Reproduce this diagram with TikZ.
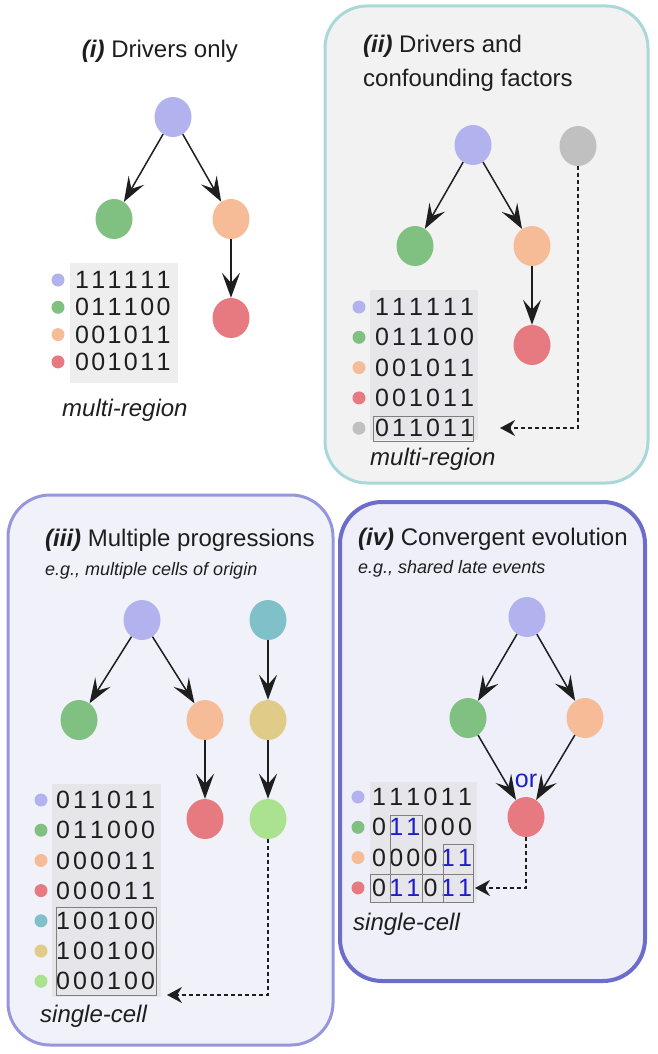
\documentclass[tikz,border=0pt]{standalone}
\usepackage{fontspec}
\setmainfont{Liberation Sans}
\usetikzlibrary{arrows.meta,shapes.geometric}
\definecolor{lav}{RGB}{178,178,238}
\definecolor{grn}{RGB}{128,192,128}
\definecolor{org}{RGB}{246,188,152}
\definecolor{red}{RGB}{230,122,128}
\definecolor{gry}{RGB}{192,192,192}
\definecolor{tea}{RGB}{128,192,200}
\definecolor{yel}{RGB}{224,204,136}
\definecolor{lgr}{RGB}{170,226,144}
\definecolor{ink}{RGB}{30,30,30}
\definecolor{bitbg}{RGB}{230,230,234}
\definecolor{bitbgA}{RGB}{238,238,238}
\definecolor{bitblue}{RGB}{30,30,200}
\definecolor{tealine}{RGB}{168,216,218}
\definecolor{tealfill}{RGB}{242,242,242}
\definecolor{lilline}{RGB}{150,150,220}
\definecolor{lilfill}{RGB}{241,242,249}
\definecolor{indline}{RGB}{108,108,202}
\definecolor{indfill}{RGB}{238,239,249}
\newcommand{\hlbit}[1]{\textcolor{bitblue}{#1}}

\begin{document}
\begin{tikzpicture}[x=1pt,y=-1pt,
        vtx/.style={ellipse,minimum width=37pt,minimum height=40pt,inner sep=0pt},
        edge/.style={-{Stealth[length=25pt,width=18pt,inset=10pt]},line width=1.5pt,draw=ink},
        link/.style={dash pattern=on 4pt off 3pt,-{Stealth[length=15pt,width=16pt,inset=5pt]},line width=1.3pt,draw=ink},
        bit/.style={font=\fontsize{25}{25}\selectfont,text=ink,inner sep=0pt},
        heading/.style={font=\fontsize{24}{28}\selectfont,text=ink,inner sep=0pt},
        eg/.style={font=\fontsize{18}{22}\selectfont\itshape,text=ink,inner sep=0pt},
        tag/.style={font=\fontsize{24}{28}\selectfont\itshape,text=ink,inner sep=0pt},
        frame/.style={rounded corners=42pt}]
    \useasboundingbox (0,0) rectangle (658,1054);

    % panel frames
    \draw[frame,draw=tealine,fill=tealfill,line width=3pt] (325,6) rectangle (648,483);
    \draw[frame,draw=lilline,fill=lilfill,line width=3pt] (8,495) rectangle (333,1045);
    \draw[frame,draw=indline,fill=indfill,line width=4pt] (340,502) rectangle (645,981);

    % (i) drivers only
    \node[heading,anchor=base] (Atitle) at (160,58) {\textbf{\textit{(i)}} Drivers only};
    \node[vtx,fill=lav] (Apur) at (173,117) {};
    \node[vtx,fill=grn] (Agrn) at (114,219) {};
    \node[vtx,fill=org] (Aorg) at (231,219) {};
    \node[vtx,fill=red] (Ared) at (231,318) {};
    \draw[edge] (Apur) -- (Agrn);
    \draw[edge] (Apur) -- (Aorg);
    \draw[edge] (Aorg) -- (Ared);
    \fill[bitbgA] (70,263) rectangle (178,383);
    \foreach \c/\bits [count=\r] in {lav/{1,1,1,1,1,1},grn/{0,1,1,1,0,0},org/{0,0,1,0,1,1},red/{0,0,1,0,1,1}}{
        \fill[\c] (58,{280+27.3*(\r-1)}) circle (6.5pt);
        \foreach \b [count=\k] in \bits
            \node[bit] (A-\r-\k) at ({82+16.3*(\k-1)},{280+27.3*(\r-1)}) {\b};
    }
    \node[tag,anchor=base west] (Atag) at (62,416) {multi-region};

    % (ii) drivers and confounding factors
    \node[heading,anchor=base west] (Btitle) at (363,53) {\textbf{\textit{(ii)}} Drivers and};
    \node[heading,anchor=base west] (Btitle2) at (363,87) {confounding factors};
    \node[vtx,fill=lav] (Bpur) at (473,145) {};
    \node[vtx,fill=gry] (Bgry) at (578,146) {};
    \node[vtx,fill=grn] (Bgrn) at (415,246) {};
    \node[vtx,fill=org] (Borg) at (532,246) {};
    \node[vtx,fill=red] (Bred) at (532,345) {};
    \draw[edge] (Bpur) -- (Bgrn);
    \draw[edge] (Bpur) -- (Borg);
    \draw[edge] (Borg) -- (Bred);
    \fill[bitbg] (370,290) rectangle (478,440);
    \foreach \c/\bits [count=\r] in {lav/{1,1,1,1,1,1},grn/{0,1,1,1,0,0},org/{0,0,1,0,1,1},red/{0,0,1,0,1,1},gry/{0,1,1,0,1,1}}{
        \fill[\c] (359,{307+30.3*(\r-1)}) circle (6.5pt);
        \foreach \b [count=\k] in \bits
            \node[bit] (B-\r-\k) at ({382+17*(\k-1)},{307+30.3*(\r-1)}) {\b};
    }
    \draw[gray,line width=1pt] (373,416) rectangle (473,441);
    \coordinate (Btip) at (500,428);
    \draw[link] (Bgry.south) |- (Btip);
    \node[tag,anchor=base west] (Btag) at (370,465) {multi-region};

    % (iii) multiple progressions
    \node[heading,anchor=base west] (Ctitle) at (45,546) {\textbf{\textit{(iii)}} Multiple progressions};
    \node[eg,anchor=base west] (Ceg) at (45,575) {e.g., multiple cells of origin};
    \node[vtx,fill=lav] (Cpur) at (142,620) {};
    \node[vtx,fill=tea] (Ctea) at (268,620) {};
    \node[vtx,fill=grn] (Cgrn) at (79,720) {};
    \node[vtx,fill=org] (Corg) at (205,720) {};
    \node[vtx,fill=yel] (Cyel) at (268,720) {};
    \node[vtx,fill=red] (Cred) at (205,819) {};
    \node[vtx,fill=lgr] (Clgr) at (268,819) {};
    \draw[edge] (Cpur) -- (Cgrn);
    \draw[edge] (Cpur) -- (Corg);
    \draw[edge] (Corg) -- (Cred);
    \draw[edge] (Ctea) -- (Cyel);
    \draw[edge] (Cyel) -- (Clgr);
    \fill[bitbg] (52,784) rectangle (161,997);
    \foreach \c/\bits [count=\r] in {lav/{0,1,1,0,1,1},grn/{0,1,1,0,0,0},org/{0,0,0,0,1,1},red/{0,0,0,0,1,1},tea/{1,0,0,1,0,0},yel/{1,0,0,1,0,0},lgr/{0,0,0,1,0,0}}{
        \fill[\c] (41,{800+30.2*(\r-1)}) circle (6.5pt);
        \foreach \b [count=\k] in \bits
            \node[bit] (C-\r-\k) at ({63+17*(\k-1)},{800+30.2*(\r-1)}) {\b};
    }
    \draw[gray,line width=1pt] (56,907) rectangle (156,995);
    \coordinate (Ctip) at (167,995);
    \draw[link] (Clgr.south) |- (Ctip);
    \node[tag,anchor=base west] (Ctag) at (40,1022) {single-cell};

    % (iv) convergent evolution
    \node[heading,anchor=base west] (Dtitle) at (358,545) {\textbf{\textit{(iv)}} Convergent evolution};
    \node[eg,anchor=base west] (Deg) at (358,573) {e.g., shared late events};
    \node[vtx,fill=lav] (Dpur) at (527,617) {};
    \node[vtx,fill=grn] (Dgrn) at (468,718) {};
    \node[vtx,fill=org] (Dorg) at (585,718) {};
    \node[vtx,fill=red] (Dred) at (526,817) {};
    \node[font=\fontsize{25}{25}\selectfont,text=bitblue,inner sep=0pt,anchor=base] (Dor) at (526,787) {or};
    \draw[edge] (Dpur) -- (Dgrn);
    \draw[edge] (Dpur) -- (Dorg);
    \draw[edge] (Dgrn) -- (Dred);
    \draw[edge] (Dorg) -- (Dred);
    \fill[bitbg] (370,782) rectangle (477,903);
    \foreach \c/\bits [count=\r] in {lav/{1,1,1,0,1,1},grn/{0,\hlbit1,\hlbit1,0,0,0},org/{0,0,0,0,\hlbit1,\hlbit1},red/{0,\hlbit1,\hlbit1,0,\hlbit1,\hlbit1}}{
        \fill[\c] (358,{797+30.3*(\r-1)}) circle (6.5pt);
        \foreach \b [count=\k] in \bits
            \node[bit] (D-\r-\k) at ({379+17.2*(\k-1)},{797+30.3*(\r-1)}) {\b};
    }
    \draw[gray,line width=1pt] (370,874) rectangle (473,902);
    \draw[gray,line width=1pt] (390,815) rectangle (422,902);
    \draw[gray,line width=1pt] (443,844) rectangle (473,902);
    \coordinate (Dtip) at (475,888);
    \draw[link] (Dred.south) |- (Dtip);
    \node[tag,anchor=base west] (Dtag) at (353,930) {single-cell};
\end{tikzpicture}
\end{document}
